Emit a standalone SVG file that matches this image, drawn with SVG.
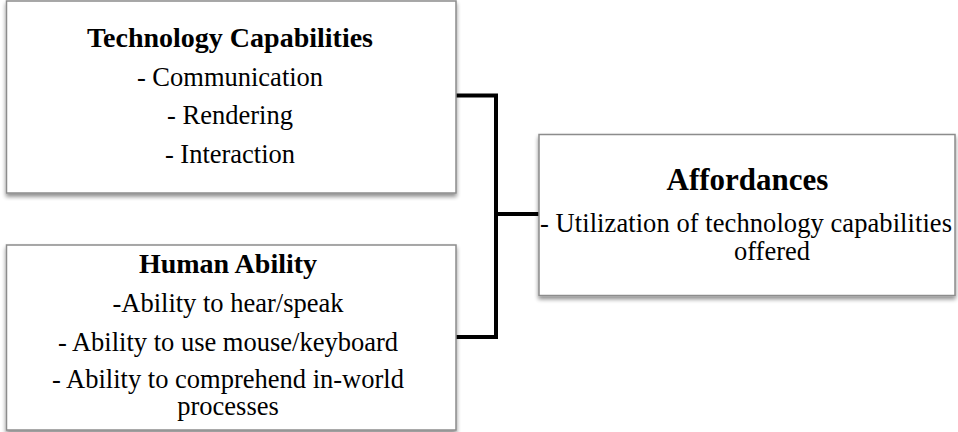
<svg xmlns="http://www.w3.org/2000/svg" width="958" height="432" viewBox="0 0 958 432">
<defs>
<filter id="sh" x="-5%" y="-5%" width="110%" height="115%">
<feGaussianBlur in="SourceAlpha" stdDeviation="2"/>
<feOffset dx="0" dy="3" result="b"/>
<feComponentTransfer in="b" result="c"><feFuncA type="linear" slope="0.45"/></feComponentTransfer>
<feMerge><feMergeNode in="c"/><feMergeNode in="SourceGraphic"/></feMerge>
</filter>
<style>
.box{fill:#fff;stroke:#8c8c8c;stroke-width:1.5;filter:url(#sh)}
.t{font-family:"Liberation Serif","Times New Roman",Times,serif;fill:#000;text-anchor:middle}
.h{font-weight:bold;font-size:28px}
.b{font-size:26.5px}
.conn{fill:none;stroke:#000;stroke-width:4;stroke-linejoin:miter}
</style>
</defs>
<rect width="958" height="432" fill="#fff"/>
<g id="connectors">
<path class="conn" d="M456 95.5 H496 V337 H456"/>
<path class="conn" d="M496 214 H539"/>
</g>
<g id="tech">
<rect class="box" x="6.5" y="1" width="449.5" height="192"/>
<text class="t h" x="230" y="47">Technology Capabilities</text>
<text class="t b" x="230" y="86">- Communication</text>
<text class="t b" x="230" y="124">- Rendering</text>
<text class="t b" x="230" y="163">- Interaction</text>
</g>
<g id="human">
<rect class="box" x="6.5" y="245" width="449.5" height="185"/>
<text class="t h" x="228" y="273">Human Ability</text>
<text class="t b" x="228" y="312">-Ability to hear/speak</text>
<text class="t b" x="228" y="351">- Ability to use mouse/keyboard</text>
<text class="t b" x="228" y="388">- Ability to comprehend in-world</text>
<text class="t b" x="228" y="415">processes</text>
</g>
<g id="affordances">
<rect class="box" x="539" y="134.5" width="416" height="161"/>
<text class="t" x="747.5" y="190" font-weight="bold" font-size="31">Affordances</text>
<text class="t b" x="746" y="232" textLength="412" lengthAdjust="spacing">- Utilization of technology capabilities</text>
<text class="t b" x="772" y="260">offered</text>
</g>
</svg>
